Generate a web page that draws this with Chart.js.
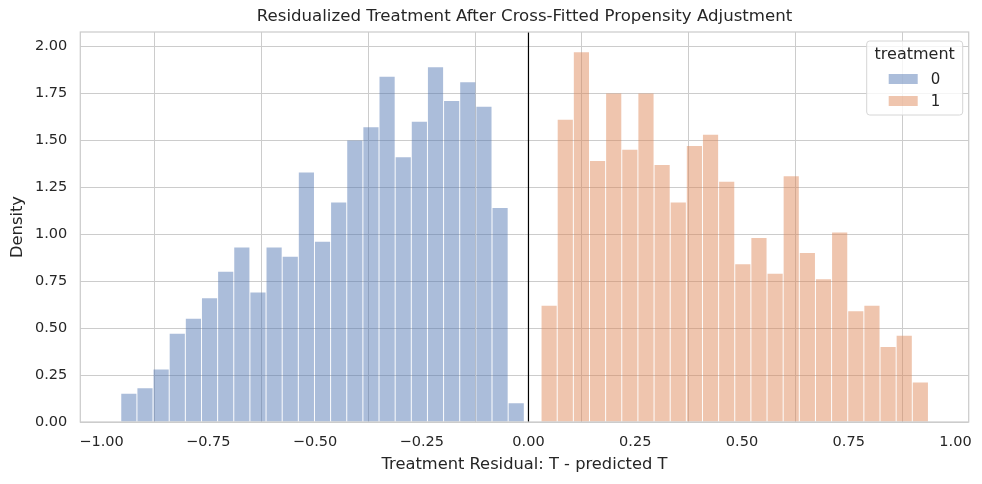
<!DOCTYPE html>
<html>
<head>
<meta charset="utf-8">
<script src="https://cdn.jsdelivr.net/npm/chart.js@4.4.1/dist/chart.umd.min.js"></script>
<style>
  html, body { margin: 0; padding: 0; background: #fff; }
  #wrap { width: 982px; height: 484px; position: relative; }
</style>
</head>
<body>
<div id="wrap"><canvas id="residChart"></canvas></div>
<script>
// histogram bins (left edge of first bin + common width)
const groups = ['0', '1'];
const binWidth = 0.0378;
const binStart0 = -0.9548;
const binStart1 = 0.0295;

// density per bin
const density0 = [0.15, 0.18, 0.28, 0.47, 0.55, 0.66, 0.80, 0.93, 0.69, 0.93,
                  0.88, 1.33, 0.96, 1.17, 1.50, 1.57, 1.84, 1.41, 1.60, 1.89,
                  1.71, 1.81, 1.68, 1.14, 0.10];
const density1 = [0.62, 1.61, 1.97, 1.39, 1.75, 1.45, 1.75, 1.37, 1.17, 1.47,
                  1.53, 1.28, 0.84, 0.98, 0.79, 1.31, 0.90, 0.76, 1.01, 0.59,
                  0.62, 0.40, 0.46, 0.21];

const xTicks = [-1, -0.75, -0.5, -0.25, 0, 0.25, 0.5, 0.75, 1];
const yTicks = [0, 0.25, 0.5, 0.75, 1, 1.25, 1.5, 1.75, 2];

const chartTitle = 'Residualized Treatment After Cross-Fitted Propensity Adjustment';
const fill0 = 'rgba(76, 114, 176, 0.47)';
const fill1 = 'rgba(221, 132, 82, 0.47)';
const textColor = '#262626';
const gridColor = '#cccccc';

function toPoints(start, values) {
  return values.map((v, i) => ({ x: start + (i + 0.5) * binWidth, y: v }));
}

function fmt(v) {
  return (v < 0 ? '\u2212' : '') + Math.abs(v).toFixed(2);
}

// title over the plot area, frame, zero line and the legend box
const extras = {
  id: 'extras',
  afterDatasetsDraw(chart) {
    const { ctx, chartArea: a, scales } = chart;
    const x0 = scales.x.getPixelForValue(0);
    ctx.save();
    ctx.strokeStyle = '#000';
    ctx.lineWidth = 1.2;
    ctx.beginPath();
    ctx.moveTo(x0, a.top);
    ctx.lineTo(x0, a.bottom);
    ctx.stroke();

    ctx.strokeStyle = gridColor;
    ctx.lineWidth = 1.25;
    ctx.strokeRect(a.left, a.top, a.right - a.left, a.bottom - a.top);
    ctx.restore();
  },
  afterDraw(chart) {
    const { ctx, chartArea: a } = chart;
    ctx.save();
    ctx.fillStyle = textColor;
    ctx.font = '16.6px "DejaVu Sans"';
    ctx.textAlign = 'center';
    ctx.textBaseline = 'middle';
    ctx.fillText(chartTitle, (a.left + a.right) / 2, a.top - 15);

    const bx = a.right - 102, by = a.top + 9, bw = 96, bh = 74;
    ctx.fillStyle = 'rgba(255,255,255,0.8)';
    ctx.strokeStyle = '#d6d6d6';
    ctx.lineWidth = 1;
    ctx.beginPath();
    ctx.roundRect(bx, by, bw, bh, 3);
    ctx.fill();
    ctx.stroke();

    ctx.fillStyle = textColor;
    ctx.font = '16px "DejaVu Sans"';
    ctx.fillText('treatment', bx + bw / 2, by + 14);

    const fills = [fill0, fill1];
    ctx.font = '15px "DejaVu Sans"';
    ctx.textAlign = 'left';
    groups.forEach((g, i) => {
      const ry = by + 38 + i * 22;
      ctx.fillStyle = fills[i];
      ctx.fillRect(bx + 22, ry - 5, 29, 10);
      ctx.fillStyle = textColor;
      ctx.fillText(g, bx + 64, ry + 1);
    });
    ctx.restore();
  }
};

new Chart(document.getElementById('residChart'), {
  type: 'bar',
  data: {
    datasets: [
      { label: groups[0], data: toPoints(binStart0, density0), backgroundColor: fill0 },
      { label: groups[1], data: toPoints(binStart1, density1), backgroundColor: fill1 }
    ]
  },
  options: {
    responsive: true,
    maintainAspectRatio: false,
    animation: false,
    grouped: false,
    barPercentage: 0.94,
    categoryPercentage: 1,
    borderWidth: 0,
    layout: { padding: { top: 32, right: 13.3 } },
    plugins: {
      legend: { display: false },
      tooltip: { enabled: false },
      title: { display: false }
    },
    scales: {
      x: {
        type: 'linear',
        min: -1.0496,
        max: 1.031,
        offset: false,
        afterBuildTicks: (s) => { s.ticks = xTicks.map(v => ({ value: v })); },
        afterFit: (s) => { s.height = 62; s.paddingLeft = 0; s.paddingRight = 0; },
        grid: { color: gridColor, lineWidth: 1, drawTicks: false },
        border: { display: false },
        ticks: {
          color: textColor,
          font: { family: 'DejaVu Sans', size: 14.5 },
          padding: 12,
          maxRotation: 0,
          callback: (v) => fmt(v)
        },
        title: {
          display: true,
          text: 'Treatment Residual: T - predicted T',
          color: textColor,
          font: { family: 'DejaVu Sans', size: 16.3 },
          padding: { top: 0, bottom: 9 }
        }
      },
      y: {
        min: 0,
        max: 2.078,
        afterBuildTicks: (s) => { s.ticks = yTicks.map(v => ({ value: v })); },
        afterFit: (s) => { s.width = 80.3; },
        grid: { color: gridColor, lineWidth: 1, drawTicks: false },
        border: { display: false },
        ticks: {
          color: textColor,
          font: { family: 'DejaVu Sans', size: 14.5 },
          padding: 13,
          callback: (v) => v.toFixed(2)
        },
        title: {
          display: true,
          text: 'Density',
          color: textColor,
          font: { family: 'DejaVu Sans', size: 16.3 },
          padding: { top: 8, bottom: 0 }
        }
      }
    }
  },
  plugins: [extras]
});
</script>
</body>
</html>
